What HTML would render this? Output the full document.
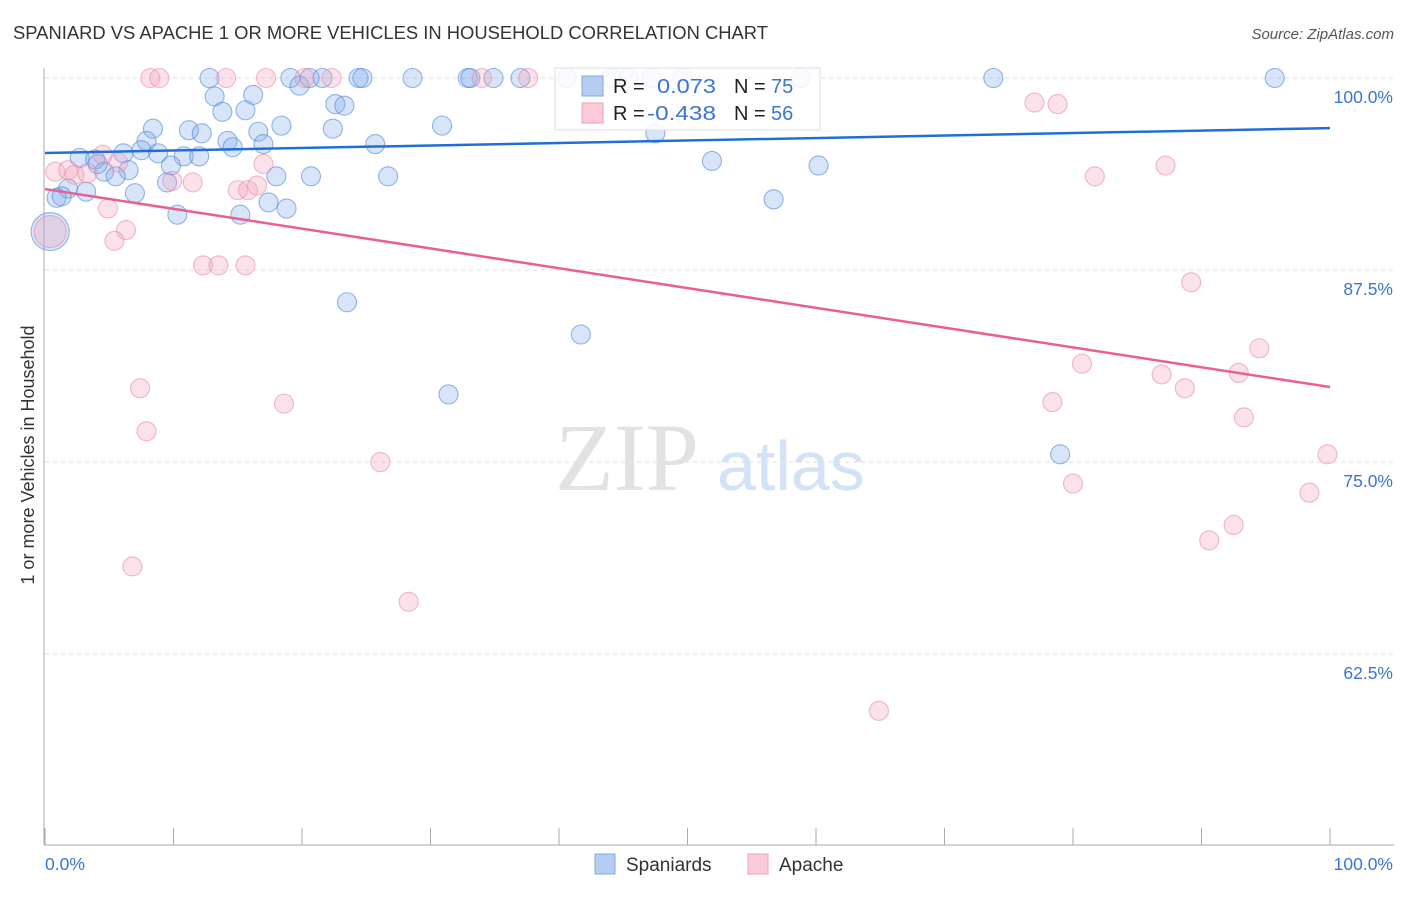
<!DOCTYPE html>
<html><head><meta charset="utf-8"><style>
body{margin:0;background:#fff;font-family:"Liberation Sans",sans-serif}
svg text{font-family:"Liberation Sans",sans-serif}
</style></head><body>
<svg id="c" width="1406" height="892">
<text x="13" y="39" font-size="18" fill="#333" textLength="755" lengthAdjust="spacingAndGlyphs">SPANIARD VS APACHE 1 OR MORE VEHICLES IN HOUSEHOLD CORRELATION CHART</text>
<text x="1394" y="39" font-size="15" fill="#555" font-style="italic" text-anchor="end">Source: ZipAtlas.com</text>
<text transform="translate(34,455) rotate(-90)" font-size="18" fill="#333" text-anchor="middle">1 or more Vehicles in Household</text>
<g id="grid"></g>
<text x="555" y="490" font-size="96" fill="#e2e2e2" style="font-family:'Liberation Serif',serif">ZIP</text>
<text x="717" y="490" font-size="70" fill="#d3e2f6">atlas</text>
<g id="pts"></g>
<g id="lines"></g>
<g>
<rect x="555" y="68" width="265" height="62" fill="#fff" fill-opacity="0.85" stroke="#ddd"/>
<rect x="582" y="76" width="21" height="20" fill="#b5cdf1" stroke="#7fa7e6"/>
<rect x="582" y="103" width="21" height="20" fill="#fbcad8" stroke="#eea0b8"/>
<text x="613" y="93" font-size="20" fill="#222">R =</text><text x="657" y="93" font-size="20" fill="#3b74d6" textLength="59" lengthAdjust="spacingAndGlyphs">0.073</text>
<text x="734" y="93" font-size="20" fill="#222">N =</text><text x="771" y="93" font-size="20" fill="#3b74d6">75</text>
<text x="613" y="120" font-size="20" fill="#222">R =</text><text x="647" y="120" font-size="20" fill="#3b74d6" textLength="69" lengthAdjust="spacingAndGlyphs">-0.438</text>
<text x="734" y="120" font-size="20" fill="#222">N =</text><text x="771" y="120" font-size="20" fill="#3b74d6">56</text>
</g>
<g>
<rect x="595" y="854" width="20" height="20" fill="#b5cdf1" stroke="#7fa7e6"/>
<text x="626" y="871" font-size="19" fill="#333">Spaniards</text>
<rect x="748" y="854" width="20" height="20" fill="#fbcad8" stroke="#eea0b8"/>
<text x="779" y="871" font-size="19" fill="#333">Apache</text>
</g>
</svg>
<script>
const yTicks=[100,87.5,75,62.5];
const yTickLabels=["100.0%","87.5%","75.0%","62.5%"];
const blueX=[12.8,19.1,19.8,20.6,21.6,24.4,24.7,28.6,32.9,33.1,34.9,37.0,40.6,44.1,45.4,47.2,49.6,58.8,73.8,95.7,13.2,16.2,13.8,15.6,22.6,23.3,8.4,11.2,12.2,16.6,18.4,22.4,30.9,47.5,7.9,14.2,14.6,17.0,25.7,7.5,6.1,2.7,3.9,8.8,10.8,12.0,51.9,60.2,6.5,4.6,5.5,4.1,9.8,18.0,20.7,26.7,9.5,1.8,3.2,7.0,0.9,1.3,17.4,18.8,56.7,10.3,15.2,23.5,41.7,31.4,79.0];
const blueY=[100,100,99.5,100,100,100,100,100,100,100,100,100,100,100,100,100,100,100,100,100,98.8,98.9,97.8,97.9,98.3,98.2,96.7,96.6,96.4,96.5,96.9,96.7,96.9,96.4,95.9,95.9,95.5,95.7,95.7,95.3,95.1,94.8,94.7,95.1,94.9,94.9,94.6,94.3,94.0,93.9,93.6,94.4,94.3,93.6,93.6,93.6,93.2,92.8,92.6,92.5,92.2,92.3,91.9,91.5,92.1,91.1,91.1,85.4,83.3,79.4,75.5];
const pinkX=[8.2,8.9,14.1,17.2,20.2,22.3,34.0,37.6,77.0,78.8,87.2,81.7,0.8,1.8,2.3,3.3,4.5,5.7,9.9,11.5,15.0,15.8,16.5,17.0,4.9,6.3,5.4,12.3,13.5,15.6,89.2,94.5,80.7,86.9,88.7,92.9,7.4,18.6,78.4,93.3,7.9,26.1,99.8,80.0,98.4,92.5,90.6,6.8,28.3,64.9];
const pinkY=[100,100,100,100,100,100,100,100,98.4,98.3,94.3,93.6,93.9,94.0,93.7,93.8,95.0,94.5,93.3,93.2,92.7,92.7,93.0,94.4,91.5,90.1,89.4,87.8,87.8,87.8,86.7,82.4,81.4,80.7,79.8,80.8,79.8,78.8,78.9,77.9,77.0,75.0,75.5,73.6,73.0,70.9,69.9,68.2,65.9,58.8];
const bigX=[0.4], bigY=[90.0];
const blueTrend=[95.12,96.74];
const pinkTrend=[92.77,79.88];
const NS='http://www.w3.org/2000/svg';
const sx=v=>45+v*12.85, sy=v=>78+(100-v)*15.36;
function mk(t,a,p){const e=document.createElementNS(NS,t);for(const k in a)e.setAttribute(k,a[k]);p.appendChild(e);return e;}
const g=document.getElementById('grid');
yTicks.forEach((t,i)=>{
 const l=mk('line',{x1:45,x2:1394,y1:sy(t),y2:sy(t),stroke:'#ddd','stroke-dasharray':'4,4'},g);
 
 
 const tx=mk('text',{x:1393,y:sy(t)+25,'font-size':17.5,fill:'#3b74d6','text-anchor':'end'},g);
 tx.textContent=yTickLabels[i];
 
 
});
const ax=mk('line',{x1:44,x2:44,y1:68,y2:845,stroke:'#aaa'},g);


const bx=mk('line',{x1:44,x2:1394,y1:845,y2:845,stroke:'#aaa'},g);


for(let i=0;i<=10;i++){const t=mk('line',{x1:sx(i*10),x2:sx(i*10),y1:828,y2:845,stroke:'#aaa'},g);
 
 }
const x0=mk('text',{x:45,y:870,'font-size':17.5,fill:'#3b74d6'},g);x0.textContent='0.0%';


const x1=mk('text',{x:1393,y:870,'font-size':17.5,fill:'#3b74d6','text-anchor':'end'},g);x1.textContent='100.0%';


const P=document.getElementById('pts');
function dots(X,Y,f,s,name,r){X.forEach((x,i)=>{const c=mk('circle',{cx:sx(x),cy:sy(Y[i]),r:r,fill:f,'fill-opacity':0.3,stroke:s,'stroke-opacity':0.6,'stroke-width':1.1},P);
 
 });}
dots(blueX,blueY,'#7ea8ea','#4f86d9','spaniards-point',9.5);
dots(pinkX,pinkY,'#f3a0ba','#e98aa9','apache-point',9.5);
dots(bigX,bigY,'#7ea8ea','#4f86d9','spaniards-point-large',19);
dots(bigX,bigY,'#f3a0ba','#e98aa9','apache-point-large',16);
const L=document.getElementById('lines');
const bl=mk('line',{x1:sx(0),y1:sy(blueTrend[0]),x2:sx(100),y2:sy(blueTrend[1]),stroke:'#1f6fd6','stroke-width':2.5},L);


const pl=mk('line',{x1:sx(0),y1:sy(pinkTrend[0]),x2:sx(100),y2:sy(pinkTrend[1]),stroke:'#e8608f','stroke-width':2.5},L);


</script>
</body></html>
